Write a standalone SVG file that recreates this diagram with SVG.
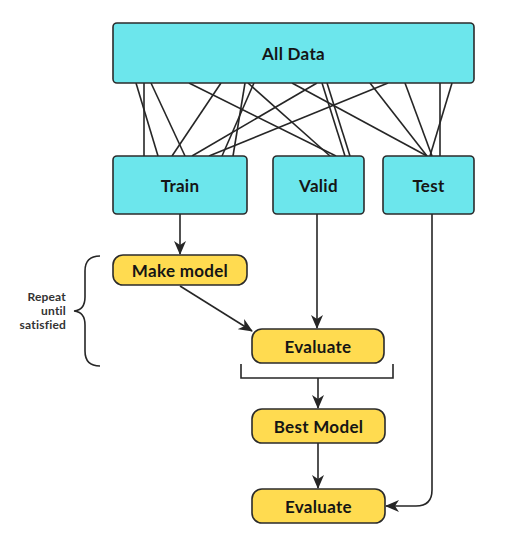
<svg xmlns="http://www.w3.org/2000/svg" width="509" height="538" viewBox="0 0 509 538">
<defs>
<style>
.cy{fill:#6ce6ec;stroke:#2b2b2b;stroke-width:1.6}
.ye{fill:#ffdb50;stroke:#2b2b2b;stroke-width:1.6}
.lbl{font-family:Lato,"Open Sans",sans-serif;font-weight:700;font-size:17px;fill:#151515;text-anchor:middle;letter-spacing:0.3px}
.side{font-family:Lato,"Open Sans",sans-serif;font-weight:700;font-size:12px;fill:#333;text-anchor:end;letter-spacing:0.2px}
.ln{stroke:#262626;stroke-width:1.6;fill:none}
</style>
<marker id="ah" viewBox="0 0 14 12" refX="13" refY="6" markerWidth="14" markerHeight="12" markerUnits="userSpaceOnUse" orient="auto">
<path d="M0,0 L14,6 L0,12 L4,6 Z" fill="#262626"/>
</marker>
</defs>
<g id="connectors">
<g id="split-lines">
<line class="ln" x1="136" y1="83" x2="158" y2="156"/>
<line class="ln" x1="144" y1="83" x2="144" y2="156"/>
<line class="ln" x1="151" y1="83" x2="185" y2="156"/>
<line class="ln" x1="221" y1="83" x2="172" y2="156"/>
<line class="ln" x1="245" y1="83" x2="233" y2="156"/>
<line class="ln" x1="254" y1="83" x2="222" y2="156"/>
<line class="ln" x1="317" y1="83" x2="192" y2="156"/>
<line class="ln" x1="388" y1="83" x2="209" y2="156"/>
<line class="ln" x1="189" y1="83" x2="336" y2="156"/>
<line class="ln" x1="248" y1="83" x2="330" y2="156"/>
<line class="ln" x1="322" y1="83" x2="345" y2="156"/>
<line class="ln" x1="327" y1="83" x2="350" y2="156"/>
<line class="ln" x1="292" y1="83" x2="427" y2="156"/>
<line class="ln" x1="370" y1="83" x2="427" y2="156"/>
<line class="ln" x1="405" y1="83" x2="432" y2="156"/>
<line class="ln" x1="440" y1="83" x2="440" y2="156"/>
<line class="ln" x1="452" y1="83" x2="430" y2="156"/>
</g>
<line class="ln" x1="180" y1="214" x2="180" y2="254" marker-end="url(#ah)"/>
<line class="ln" x1="317" y1="214" x2="317" y2="328" marker-end="url(#ah)"/>
<line class="ln" x1="180" y1="286" x2="252" y2="331" marker-end="url(#ah)"/>
<path class="ln" d="M241,364 L241,378 L393,378 L393,364"/>
<line class="ln" x1="318" y1="378" x2="318" y2="408" marker-end="url(#ah)"/>
<line class="ln" x1="318" y1="443" x2="318" y2="488" marker-end="url(#ah)"/>
<path class="ln" d="M432,214 L432,490 Q432,506 416,506 L386,506" marker-end="url(#ah)"/>
<path class="ln" d="M100,256 Q85,256 85,271 L85,297 Q85,310 74,311 Q85,312 85,325 L85,351 Q85,366 100,366"/>
</g>
<g id="all-data">
<rect class="cy" x="113" y="23" width="361" height="60" rx="4"/>
<text class="lbl" x="293.5" y="59.5">All Data</text>
</g>
<g id="train">
<rect class="cy" x="113" y="156" width="134" height="58" rx="4"/>
<text class="lbl" x="180" y="191.5">Train</text>
</g>
<g id="valid">
<rect class="cy" x="273" y="156" width="91" height="58" rx="4"/>
<text class="lbl" x="318.5" y="191.5">Valid</text>
</g>
<g id="test">
<rect class="cy" x="383" y="156" width="91" height="58" rx="4"/>
<text class="lbl" x="428.5" y="191.5">Test</text>
</g>
<g id="make-model">
<rect class="ye" x="113" y="255" width="134" height="30" rx="10"/>
<text class="lbl" x="180" y="276.5">Make model</text>
</g>
<g id="evaluate-1">
<rect class="ye" x="252" y="329" width="132" height="34" rx="10"/>
<text class="lbl" x="318" y="352.5">Evaluate</text>
</g>
<g id="best-model">
<rect class="ye" x="252" y="409" width="133" height="34" rx="10"/>
<text class="lbl" x="318.5" y="432.5">Best Model</text>
</g>
<g id="evaluate-2">
<rect class="ye" x="252" y="489" width="133" height="34" rx="10"/>
<text class="lbl" x="318.5" y="512.5">Evaluate</text>
</g>
<g id="repeat-label">
<text class="side" x="66" y="301">Repeat</text>
<text class="side" x="66" y="315">until</text>
<text class="side" x="66" y="329">satisfied</text>
</g>
</svg>
